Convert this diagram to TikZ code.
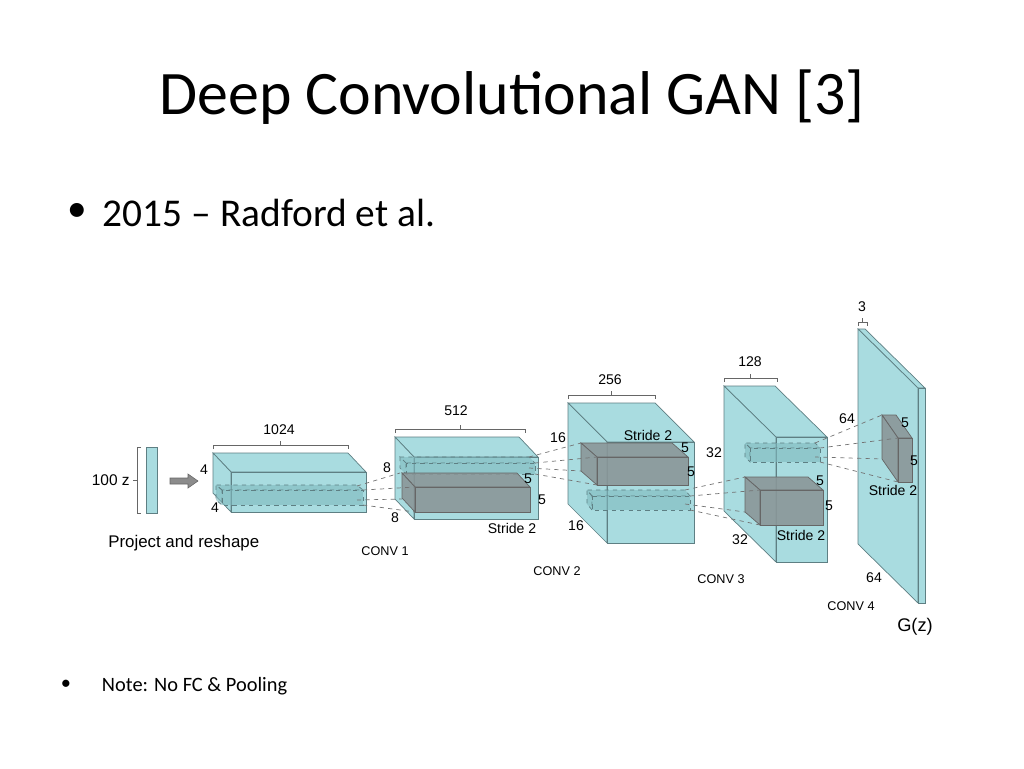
\documentclass[tikz,border=0pt]{standalone}
\usepackage{fontspec}
\setmainfont{Carlito}
\newfontfamily\figfont{Liberation Sans}
\definecolor{teal1}{HTML}{A9DCE0}
\definecolor{teal2}{HTML}{7FB9BE}
\definecolor{edge1}{HTML}{5E7F83}
\definecolor{kern}{HTML}{8A9799}
\newcommand{\layerbox}[7][]{%
  \filldraw[#1] (#2,#3) -- (#2-#6,#3-#7) -- (#2+#4-#6,#3-#7) -- (#2+#4,#3) -- cycle;
  \filldraw[#1] (#2,#3) -- (#2-#6,#3-#7) -- (#2-#6,#3+#5-#7) -- (#2,#3+#5) -- cycle;
  \filldraw[#1] (#2,#3) rectangle (#2+#4,#3+#5);}
\begin{document}
\begin{tikzpicture}
	[x=0.25mm,y=-0.25mm,
	layer/.style={fill=teal1,draw=edge1,line width=0.5pt},
	kernel/.style={fill=kern,draw=black!60,line width=0.5pt,fill opacity=0.9},
	patch/.style={fill=teal2,draw=edge1,dashed,line width=0.5pt,fill opacity=0.6},
	link/.style={draw=black!55,dashed,line width=0.5pt},
	lbl/.style={font=\figfont\fontsize{10}{12}\selectfont,inner sep=0pt},
	brace/.style={draw=black!60,line width=0.5pt},
	]
	\useasboundingbox (0,0) rectangle (1024,768);
	\fill[white] (0,0) rectangle (1024,768);

	% slide text
	\node[font=\fontsize{44}{50}\selectfont] (title) at (512,97) {Deep Convolutional GAN [3]};
	\node[font=\fontsize{28}{32}\selectfont,anchor=west] (item1) at (98,213) {2015 -- Radford et al.};
	\node[font=\fontsize{28}{32}\selectfont] (bul1) at (77,212) {\textbullet};
	\node[font=\fontsize{14.5}{17}\selectfont,anchor=west] (item2) at (97,686) {Note: No FC \& Pooling};
	\node[font=\fontsize{14.5}{17}\selectfont] (bul2) at (66,685) {\textbullet};

	% input vector and arrow
	\fill[teal1,draw=edge1] (146,447) rectangle (157,513);
	\draw[brace] (141,447) -- (137,447) -- (137,513) -- (141,513) (137,480) -- (133,480);
	\node[lbl,anchor=east,font=\figfont\fontsize{11}{13}\selectfont] (zin) at (130,480) {100 z};
	\filldraw[fill=black!45,draw=black!60] (170,478) -- (188,478) -- (188,474) -- (198,481) -- (188,488) -- (188,484) -- (170,484) -- cycle;
	\node[lbl,anchor=west,font=\figfont\fontsize{12}{14}\selectfont] (proj) at (108,543) {Project and reshape};

	% layers
	\layerbox[layer]{231}{472}{135}{40}{18}{19}
	\layerbox[layer]{414}{457}{124}{62}{19}{20}
	\layerbox[layer]{607}{442}{87}{101}{39}{39}
	\layerbox[layer]{776}{437}{51}{125}{52}{51}
	\layerbox[layer]{918}{388}{7}{215}{60}{59}

	% kernels and patches
	\layerbox[patch]{222}{490}{141}{15}{6}{5}
	\layerbox[patch]{406}{463}{129}{11}{6}{6}
	\layerbox[kernel]{415}{487}{115}{25}{13}{14}
	\layerbox[kernel]{597}{457}{91}{28}{16}{14}
	\layerbox[patch]{592}{496}{98}{14}{5}{6}
	\layerbox[patch]{750}{448}{70}{14}{5}{5}
	\layerbox[kernel]{760}{490}{63}{35}{15}{13}
	\layerbox[kernel]{898}{438}{14}{44}{16}{23}

	% dashed links
	\draw[link] (357,486) -- (400,473) (363,490) -- (415,487) (363,505) -- (415,512) (357,500) -- (402,499);
	\draw[link] (529,457) -- (581,443) (535,463) -- (597,457) (535,474) -- (597,485) (529,468) -- (581,471);
	\draw[link] (685,490) -- (745,477) (690,496) -- (760,490) (690,510) -- (760,525) (685,504) -- (745,512);
	\draw[link] (815,443) -- (882,415) (820,448) -- (898,438) (820,462) -- (898,482) (815,457) -- (882,459);

	% braces
	\draw[brace] (213,449) -- (213,445) -- (348,445) -- (348,449) (280,445) -- (280,441);
	\draw[brace] (395,433) -- (395,429) -- (525,429) -- (525,433) (460,429) -- (460,425);
	\draw[brace] (568,399) -- (568,395) -- (655,395) -- (655,399) (611,395) -- (611,391);
	\draw[brace] (724,382) -- (724,378) -- (777,378) -- (777,382) (750,378) -- (750,374);
	\draw[brace] (858,326) -- (858,322) -- (867,322) -- (867,326) (862,322) -- (862,318);

	% labels
	\node[lbl] (l1024) at (279,430) {1024};
	\node[lbl] (a4) at (204,470) {4};
	\node[lbl] (b4) at (215,508) {4};
	\node[lbl] (l512) at (456,411) {512};
	\node[lbl] (a8) at (387,468) {8};
	\node[lbl] (b8) at (395,518) {8};
	\node[lbl] (c5) at (528,479) {5};
	\node[lbl] (d5) at (542,500) {5};
	\node[lbl] (s1) at (512,528) {Stride 2};
	\node[lbl,font=\figfont\fontsize{9}{11}\selectfont] (conv1) at (385,551) {CONV 1};
	\node[lbl] (l256) at (610,380) {256};
	\node[lbl] (a16) at (558,438) {16};
	\node[lbl] (s2) at (648,435) {Stride 2};
	\node[lbl] (e5) at (685,448) {5};
	\node[lbl] (f5) at (691,472) {5};
	\node[lbl] (b16) at (576,526) {16};
	\node[lbl,font=\figfont\fontsize{9}{11}\selectfont] (conv2) at (557,571) {CONV 2};
	\node[lbl] (l128) at (750,362) {128};
	\node[lbl] (a32) at (714,453) {32};
	\node[lbl] (g5) at (820,481) {5};
	\node[lbl] (h5) at (829,506) {5};
	\node[lbl] (s3) at (801,535) {Stride 2};
	\node[lbl] (b32) at (740,540) {32};
	\node[lbl,font=\figfont\fontsize{9}{11}\selectfont] (conv3) at (721,579) {CONV 3};
	\node[lbl] (l3) at (862,307) {3};
	\node[lbl] (a64) at (847,419) {64};
	\node[lbl] (i5) at (905,423) {5};
	\node[lbl] (j5) at (914,461) {5};
	\node[lbl] (s4) at (893,490) {Stride 2};
	\node[lbl] (b64) at (874,578) {64};
	\node[lbl,font=\figfont\fontsize{9}{11}\selectfont] (conv4) at (851,606) {CONV 4};
	\node[lbl,font=\figfont\fontsize{13}{15}\selectfont] (gz) at (915,627) {G(z)};
\end{tikzpicture}
\end{document}
